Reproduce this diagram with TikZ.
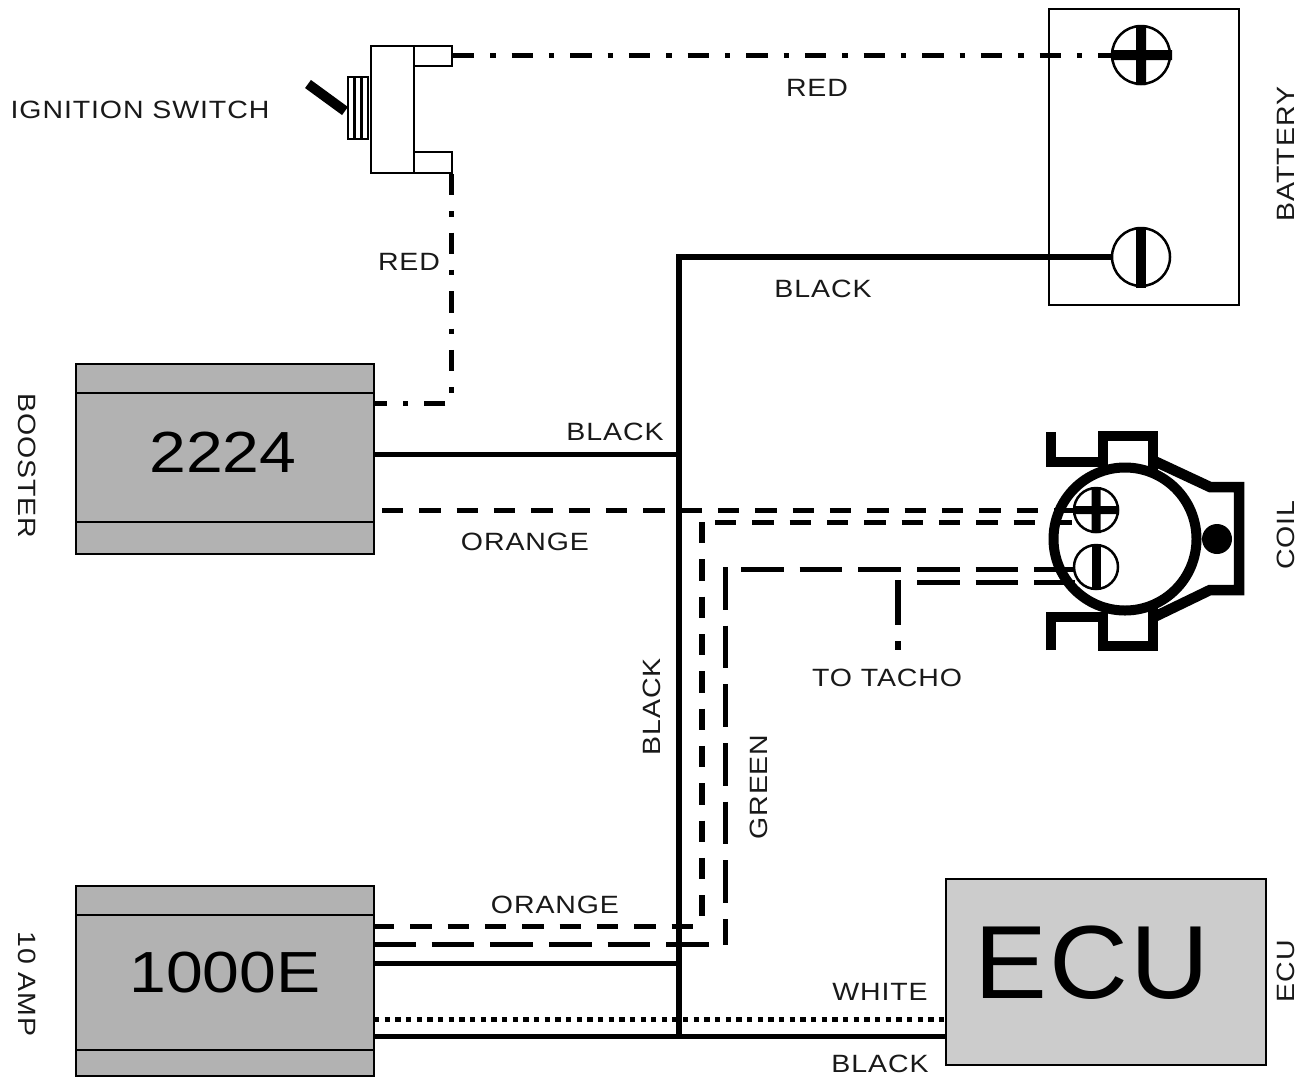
\documentclass[tikz,border=0pt]{standalone}
\usepackage{fontspec}
\setmainfont[FakeStretch=1.14,LetterSpace=3.6]{Liberation Sans}
\newfontfamily\bigfont[FakeStretch=1.14]{Liberation Sans}
\newfontfamily\ecufont[FakeStretch=1.05,LetterSpace=2]{Liberation Sans}
\usetikzlibrary{calc}
\tikzset{
  lbl/.style={inner sep=0pt,outer sep=0pt,font=\fontsize{25}{25}\selectfont,text=black!90},
  num/.style={inner sep=0pt,outer sep=0pt,font=\bigfont\fontsize{58}{58}\selectfont},
  modbox/.style={draw=black,line width=2.7pt,fill=boxgray,inner sep=0pt,outer sep=0pt,minimum width=298pt,minimum height=190pt},
  thin part/.style={draw=black,line width=2.7pt},
  wire/.style={draw=black,line width=5pt},
  mainwire/.style={draw=black,line width=6pt},
  redwire/.style={wire,dash pattern=on 21.33pt off 16pt on 5.33pt off 16pt},
  orangewire/.style={wire,dash pattern=on 21.33pt off 16pt},
  greenwire/.style={wire,dash pattern=on 42.67pt off 16pt},
  whitewire/.style={wire,dash pattern=on 5.33pt off 5.33pt},
  coilpart/.style={draw=black,line width=10.5pt,miter limit=10},
  terminal/.style={circle,draw=black,line width=2.5pt,fill=white,inner sep=0pt,outer sep=0pt},
}
\definecolor{boxgray}{HTML}{B2B2B2}
\definecolor{ecugray}{HTML}{CCCCCC}
\begin{document}
\begin{tikzpicture}[x=1pt,y=-1pt]
\useasboundingbox (0,0) rectangle (1309,1077);
% modules
\node[modbox] (booster) at (225,459) {};
\node[modbox] (amp) at (225,981) {};
\node[draw=black,line width=2.7pt,fill=ecugray,inner sep=0pt,outer sep=0pt,minimum width=320pt,minimum height=186pt] (ecu) at (1106,972) {};
\draw[thin part] (76,393) -- (374,393) (76,522) -- (374,522);
\draw[thin part] (76,915) -- (374,915) (76,1050) -- (374,1050);
\node[num] (n2224) at (223,452) {2224};
\node[num] (n1000) at (225,973) {1000E};
\node[inner sep=0pt,font=\ecufont\fontsize{104}{104}\selectfont] (necu) at (1092,963) {ECU};
% battery
\node[draw=black,line width=2pt,inner sep=0pt,outer sep=0pt,minimum width=190pt,minimum height=296pt] (battery) at (1144,157) {};
\node[terminal,minimum size=58pt] (bpos) at (1141,55) {};
\node[terminal,minimum size=58pt] (bneg) at (1141,257) {};
\fill (1136,25) rectangle (1146,85) (1111,50) rectangle (1172,60);
\fill (1136,227) rectangle (1146,288);
% switch
\node[draw=black,line width=2.7pt,inner sep=0pt,outer sep=0pt,minimum width=43pt,minimum height=127pt] (swbody) at (392.5,109.5) {};
\node[draw=black,line width=2.7pt,inner sep=0pt,outer sep=0pt,minimum width=38pt,minimum height=20pt] (swtop) at (433,56) {};
\node[draw=black,line width=2.7pt,inner sep=0pt,outer sep=0pt,minimum width=38pt,minimum height=21pt] (swbot) at (433,162.5) {};
\draw[line width=2pt] (347.5,76.5) rectangle (368,138.5);
\draw[line width=3pt] (354.5,76.5) -- (354.5,138.5) (361.5,76.5) -- (361.5,138.5);
\coordinate (levera) at (308,84);
\coordinate (leverb) at (345,111);
\draw[line width=10pt] (levera) -- (leverb);
% coil
\draw[coilpart] (1150,459) -- (1210,487) -- (1239,487) -- (1239,590) -- (1210,590) -- (1150,619);
\draw[coilpart,fill=white] (1051,432) -- (1051,462) -- (1103,462) -- (1103,436) -- (1153,436) -- (1153,470);
\draw[coilpart,fill=white] (1051,650) -- (1051,617) -- (1103,617) -- (1103,646) -- (1153,646) -- (1153,608);
\node[circle,draw=black,line width=10pt,fill=white,inner sep=0pt,outer sep=0pt,minimum size=143pt] (coil) at (1125,539) {};
\node[circle,fill=black,inner sep=0pt,minimum size=30pt] (coildot) at (1217,539) {};
% wires
\coordinate (redA) at (453,55);
\path[redwire] (redA) -- (bpos.west);
\coordinate (swb) at (451,174);
\coordinate (corner1) at (451,403);
\coordinate (b0) at (375,403);
\path[redwire] (swb) -- (corner1) -- (b0);
\coordinate (b1) at (374,454);
\coordinate (jt) at (679,257);
\coordinate (j1) at (679,454);
\coordinate (j2) at (679,963);
\coordinate (j3) at (679,1036);
\coordinate (a1) at (374,963);
\coordinate (a2) at (374,1036);
\coordinate (e2) at (946,1036);
\coordinate (a3) at (374,1019);
\coordinate (e3) at (946,1019);
\path[mainwire] (j3) -- (jt) -- (bneg.west);
\path[wire] (b1) -- (j1);
\path[wire] (a1) -- (j2);
\path[wire] (a2) -- (e2);
\path[whitewire] (a3) -- (e3);
% orange
\coordinate (o1) at (382,510);
\coordinate (o1e) at (1074,510);
\coordinate (o2) at (715,522);
\coordinate (o2e) at (1073,522);
\coordinate (o3) at (702,522);
\coordinate (o3e) at (702,916);
\coordinate (o4) at (373,926);
\coordinate (o4e) at (693,926);
\path[orangewire] (o1) -- (o1e);
\path[orangewire] (o2) -- (o2e);
\path[orangewire,line width=5.5pt] (o3) -- (o3e);
\path[orangewire] (o4) -- (o4e);
% green
\coordinate (g1) at (373,944);
\coordinate (g1e) at (709,944);
\coordinate (g2) at (725,567);
\coordinate (g2e) at (725,945);
\coordinate (g3) at (741,569);
\coordinate (g3e) at (1075,569);
\coordinate (g4) at (917,582);
\coordinate (g4e) at (1075,582);
\path[greenwire] (g1) -- (g1e);
\path[greenwire] (g2) -- (g2e);
\path[greenwire] (g3) -- (g3e);
\path[greenwire] (g4) -- (g4e);
\coordinate (t1) at (898,580);
\coordinate (t2) at (898,650);
\path[greenwire,dash pattern=on 45pt off 16pt,line width=5.5pt] (t1) -- (t2);
% coil terminals
\node[terminal,minimum size=44pt] (cpos) at (1096,510) {};
\node[terminal,minimum size=44pt] (cneg) at (1096,567) {};
\fill (1091.5,487) rectangle (1100.5,533) (1074,506) rectangle (1119,514);
\fill (1091.5,544) rectangle (1100.5,590);
% labels
\node[lbl] (l1) at (140,110) {IGNITION SWITCH};
\node[lbl] (l2) at (817,88) {RED};
\node[lbl] (l3) at (409,262) {RED};
\node[lbl] (l4) at (823,289) {BLACK};
\node[lbl] (l5) at (615,432) {BLACK};
\node[lbl] (l6) at (525,542) {ORANGE};
\node[lbl,rotate=90] (l7) at (652,707) {BLACK};
\node[lbl,rotate=90] (l8) at (759,787) {GREEN};
\node[lbl] (l9) at (887,678) {TO TACHO};
\node[lbl] (l10) at (555,905) {ORANGE};
\node[lbl] (l11) at (880,992) {WHITE};
\node[lbl] (l12) at (880,1064) {BLACK};
\node[lbl,rotate=90] (l13) at (1286,154) {BATTERY};
\node[lbl,rotate=90] (l14) at (1286,535) {COIL};
\node[lbl,rotate=90] (l15) at (1286,971) {ECU};
\node[lbl,rotate=-90] (l16) at (27,466) {BOOSTER};
\node[lbl,rotate=-90] (l17) at (27,984) {10 AMP};
\end{tikzpicture}
\end{document}
